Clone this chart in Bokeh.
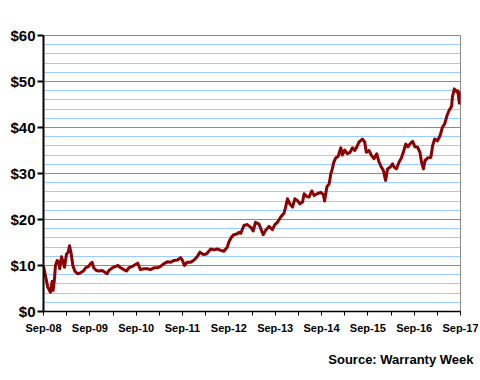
from bokeh.plotting import figure
from bokeh.models import FixedTicker, NumeralTickFormatter, Range1d, Title
from bokeh.embed import file_html
from bokeh.resources import INLINE

# months since Sep 2008
months = [0, 0.5, 1.1, 1.8, 2.25, 2.5, 2.85, 3.1, 3.55, 3.97, 4.2, 4.67, 5.1, 5.44, 5.96,
          6.4, 6.74, 7.18, 7.6, 8.1, 8.9, 9.6, 10.3, 10.9, 11.7, 12.2, 12.6, 13.0, 13.7,
          14.3, 15.2, 16.1, 16.5, 16.9, 17.8, 18.7, 19.3, 20.0, 20.8, 21.5, 22.1, 23.0,
          23.8, 24.4, 25.1, 26.0, 26.9, 27.7, 28.6, 29.5, 30.3, 31.2, 32.1, 32.9, 33.8,
          34.7, 35.5, 36.0, 36.5, 37.2, 38.1, 39.0, 39.8, 40.5, 41.4, 42.2, 43.3, 44.1,
          45.0, 45.9, 46.7, 47.6, 48.0, 48.7, 49.3, 50.2, 50.6, 51.1, 51.9, 52.8, 53.7,
          54.3, 54.9, 55.8, 56.2, 56.9, 57.5, 58.4, 59.3, 59.9, 60.6, 61.4, 62.3, 62.7,
          63.2, 63.8, 64.5, 65.1, 65.8, 66.4, 67.1, 67.5, 68.2, 68.8, 69.5, 70.1, 70.9,
          71.8, 72.5, 72.8, 73.4, 74.0, 74.4, 74.8, 75.2, 75.7, 76.3, 77.0, 77.4, 78.0,
          78.7, 79.4, 80.0, 80.6, 81.1, 81.7, 82.6, 83.2, 83.6, 84.3, 84.9, 85.6, 86.3,
          86.9, 87.5, 88.0, 88.6, 89.1, 89.8, 90.4, 90.8, 91.4, 92.1, 92.7, 93.2, 93.8,
          94.4, 94.9, 95.6, 96.2, 96.9, 97.5, 97.9, 98.4, 98.8, 99.5, 100.3, 100.8,
          101.3, 102.0, 102.7, 103.3, 103.9, 104.5, 105.1, 105.7, 105.9, 106.4, 107.1,
          107.3, 107.7, 108]
price = [9.8, 7.8, 5.3, 4.2, 6.6, 4.6, 7.1, 10.0, 11.1, 10.7, 9.3, 11.9, 10.7, 9.6, 12.5,
         12.9, 14.3, 12.5, 10.0, 8.8, 8.2, 8.4, 8.8, 9.5, 9.8, 10.4, 10.7, 9.5, 8.9,
         8.8, 8.9, 8.4, 8.2, 8.9, 9.5, 9.8, 10.0, 9.5, 9.1, 8.8, 9.5, 9.8,
         10.2, 10.5, 9.1, 9.3, 9.3, 9.1, 9.5, 9.5, 9.8, 10.4, 10.8, 10.7, 11.1,
         11.2, 11.7, 11.1, 10.0, 10.7, 10.7, 11.2, 11.9, 12.9, 12.4, 12.5, 13.6, 13.4,
         13.6, 13.3, 13.1, 14.0, 15.1, 16.2, 16.7, 16.9, 17.2, 17.0, 18.7, 18.9, 18.3,
         17.5, 19.4, 19.0, 18.2, 16.7, 17.6, 18.5, 17.8, 18.9, 19.4, 20.5, 21.4, 22.7,
         24.5, 23.4, 22.7, 24.5, 24.1, 23.4, 23.8, 25.6, 25.0, 24.9, 26.2, 25.2, 25.6,
         25.9, 25.4, 24.0, 27.1, 27.8, 29.9, 31.0, 32.5, 33.4, 33.7, 35.6, 34.0, 35.1,
         34.3, 34.6, 35.6, 35.0, 35.7, 36.8, 37.5, 36.8, 34.6, 35.0, 34.0, 33.2, 34.3,
         32.5, 31.4, 30.7, 28.5, 31.0, 31.4, 32.1, 31.4, 31.0, 32.5, 33.4, 34.6, 36.4,
         35.8, 36.4, 37.0, 35.8, 35.7, 34.6, 32.5, 31.0, 32.8, 33.4, 33.5, 36.1,
         37.5, 37.1, 38.2, 40.0, 40.8, 42.6, 43.8, 44.6, 46.6, 48.4, 47.7,
         48.0, 45.3, 47.9]

x_tick_months = list(range(0, 109, 6))
x_tick_labels = {m: ("Sep-%02d" % (8 + m // 12) if m % 12 == 0 else "") for m in x_tick_months}
y_major = list(range(0, 61, 10))
y_minor = [v for v in range(0, 61, 2) if v % 10 != 0]

FONT = "Liberation Sans"

p = figure(width=478, height=372, output_backend="svg", toolbar_location=None,
           x_range=Range1d(0, 108), y_range=Range1d(0, 60),
           min_border_left=43, min_border_right=18, min_border_top=35, min_border_bottom=61,
           background_fill_color="white", border_fill_color="white")
p.frame_width = 417
p.frame_height = 276

p.line(months, price, line_color="#8B0000", line_width=3, line_join="round")

p.outline_line_color = "#888888"
p.outline_line_width = 1

# grids
p.xgrid.visible = False
p.ygrid.ticker = FixedTicker(ticks=y_major, minor_ticks=y_minor)
p.ygrid.grid_line_color = "#8C8C8C"
p.ygrid.grid_line_width = 1
p.ygrid.minor_grid_line_color = "#99CCFF"
p.ygrid.minor_grid_line_width = 1

# y axis
ya = p.yaxis[0]
ya.ticker = FixedTicker(ticks=y_major, minor_ticks=[])
ya.formatter = NumeralTickFormatter(format="$0")
ya.axis_line_color = "black"
ya.axis_line_width = 2
ya.major_tick_line_color = "black"
ya.major_tick_line_width = 2
ya.major_tick_out = 6
ya.major_tick_in = 0
ya.minor_tick_line_color = None
ya.major_label_standoff = 2
ya.major_label_text_font = FONT
ya.major_label_text_font_style = "bold"
ya.major_label_text_font_size = "15px"
ya.major_label_text_color = "black"

# x axis
xa = p.xaxis[0]
xa.ticker = FixedTicker(ticks=x_tick_months, minor_ticks=[])
xa.major_label_overrides = x_tick_labels
xa.axis_line_color = "black"
xa.axis_line_width = 1.5
xa.major_tick_line_color = "black"
xa.major_tick_line_width = 1
xa.major_tick_out = 4
xa.major_tick_in = 0
xa.minor_tick_line_color = None
xa.major_label_standoff = 6
xa.major_label_text_font = FONT
xa.major_label_text_font_style = "bold"
xa.major_label_text_font_size = "11px"
xa.major_label_text_color = "black"

src = Title(text="Source: Warranty Week", align="right", offset=-13, standoff=26,
            text_font=FONT, text_font_style="bold", text_font_size="13px",
            text_color="black")
p.add_layout(src, "below")

open("out.html", "w").write(file_html(p, INLINE))
